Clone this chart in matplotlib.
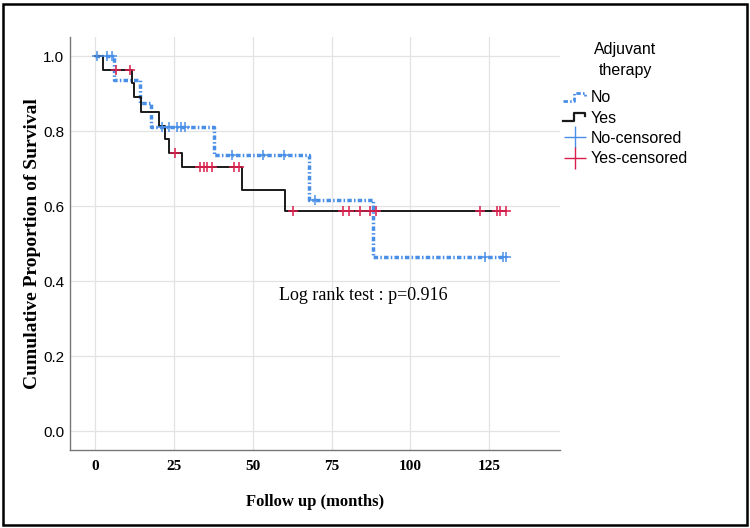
import numpy as np
import matplotlib
matplotlib.use('Agg')
import matplotlib.pyplot as plt
from matplotlib.lines import Line2D
from matplotlib.legend_handler import HandlerBase
from matplotlib.patches import Rectangle

# 生存曲线数据
yes_times = [0, 2.4, 11.6, 12.4, 14.5, 20.4, 22.2, 23.3, 27.5, 46.6, 60.3]
yes_surv = [1.0, 0.964, 0.929, 0.891, 0.853, 0.815, 0.780, 0.742, 0.704, 0.645, 0.589]
yes_end = 130.5
yes_censor = [6.7, 10.9, 25.2, 33.1, 34.4, 35.6, 37.0, 43.9, 45.5, 62.7, 78.6, 80.4,
              84.1, 87.1, 89.1, 122.0, 127.5, 128.4, 130.5]

no_times = [0, 6.1, 14.1, 17.7, 37.6, 67.9, 88.1]
no_surv = [1.0, 0.936, 0.876, 0.812, 0.738, 0.618, 0.464]
no_end = 130.5
no_censor = [0.6, 3.6, 5.2, 21.2, 23.3, 25.9, 27.3, 28.6, 43.4, 53.4, 59.8, 69.8,
             123.8, 129.4, 130.5]

x_ticks = [0, 25, 50, 75, 100, 125]
y_ticks = [0.0, 0.2, 0.4, 0.6, 0.8, 1.0]
legend_labels = ['No', 'Yes', 'No-censored', 'Yes-censored']

BLUE = '#4a8fe7'
RED = '#d81e4c'
SERIF = 'Liberation Serif'
SANS = 'Liberation Sans'

plt.rcParams['lines.scale_dashes'] = False
NO_DASH = (0, (3.2, 1.6, 1.1, 1.6))


def surv_at(times, surv, t):
    idx = np.searchsorted(times, t, side='right') - 1
    return np.asarray(surv)[idx]


class StepHandler(HandlerBase):
    # 图例中的阶梯形状
    def create_artists(self, legend, orig_handle, xdescent, ydescent, width, height, fontsize, trans):
        xs = np.array([0.0, 0.45, 0.45, 0.9, 0.9]) * width - xdescent
        ys = np.array([0.1, 0.1, 0.85, 0.85, 0.55]) * height - ydescent
        line = Line2D(xs, ys)
        self.update_prop(line, orig_handle, legend)
        line.set_transform(trans)
        return [line]


fig = plt.figure(figsize=(7.5, 5.28), dpi=100)
ax = fig.add_axes([70 / 750, 1 - 450 / 528, 490 / 750, 413 / 528])

ax.step(list(no_times) + [no_end], list(no_surv) + [no_surv[-1]], where='post',
        color=BLUE, lw=2.5, linestyle=NO_DASH, dash_capstyle='butt', zorder=3)
ax.step(list(yes_times) + [yes_end], list(yes_surv) + [yes_surv[-1]], where='post',
        color='#1a1a1a', lw=1.4, zorder=4)

ax.plot(no_censor, surv_at(no_times, no_surv, no_censor), linestyle='none', marker='+',
        color=BLUE, markersize=7, mew=1.1, zorder=5)
ax.plot(yes_censor, surv_at(yes_times, yes_surv, yes_censor), linestyle='none', marker='+',
        color=RED, markersize=7, mew=1.1, zorder=5)

ax.set_xlim(-8, 147.5)
ax.set_ylim(-0.05, 1.052)
ax.set_xticks(x_ticks)
ax.set_yticks(y_ticks)
ax.set_xticklabels([str(v) for v in x_ticks], fontfamily=SERIF, fontweight='bold', fontsize=11)
ax.set_yticklabels([f'{v:.1f}' for v in y_ticks], fontfamily=SANS, fontsize=11)
ax.tick_params(axis='x', length=0, pad=7)
ax.tick_params(axis='y', length=0, pad=4)
ax.grid(True, color='#e3e3e3', lw=0.9)
ax.set_axisbelow(True)
for side in ['top', 'right']:
    ax.spines[side].set_visible(False)
for side in ['left', 'bottom']:
    ax.spines[side].set_color('#777777')
    ax.spines[side].set_linewidth(1.0)

ax.set_xlabel('Follow up (months)', fontfamily=SERIF, fontweight='bold', fontsize=12, labelpad=15)
ax.set_ylabel('Cumulative Proportion of Survival', fontfamily=SERIF, fontweight='bold', fontsize=14, labelpad=2)

ax.text(85, 0.362, 'Log rank test : p=0.916', fontfamily=SERIF, fontsize=13,
        ha='center', va='center')

# 图例
h_no = Line2D([], [], color=BLUE, lw=2.0, linestyle=NO_DASH)
h_yes = Line2D([], [], color='#1a1a1a', lw=1.6)
h_no_c = Line2D([], [], color=BLUE, linestyle='none', marker='+', markersize=16, mew=1.0)
h_yes_c = Line2D([], [], color=RED, linestyle='none', marker='+', markersize=16, mew=1.0)
leg = fig.legend([h_no, h_yes, h_no_c, h_yes_c], legend_labels,
                 handler_map={h_no: StepHandler(), h_yes: StepHandler()},
                 loc='upper left', bbox_to_anchor=(557 / 750, 1 - 36 / 528),
                 frameon=False, title='Adjuvant\ntherapy',
                 prop={'family': SANS, 'size': 11.5},
                 handlelength=1.5, handletextpad=0.2, labelspacing=0.33, borderaxespad=0)
leg.get_title().set_fontfamily(SANS)
leg.get_title().set_fontsize(11.5)
leg.get_title().set_multialignment('center')
leg.get_title().set_linespacing(1.45)
leg._legend_box.sep = 9

# 外边框
fig.patches.append(Rectangle((3 / 750, 3 / 528), 744 / 750, 521 / 528, transform=fig.transFigure,
                             fill=False, ec='black', lw=1.8))

fig.savefig('out.png', dpi=100)
plt.close(fig)
